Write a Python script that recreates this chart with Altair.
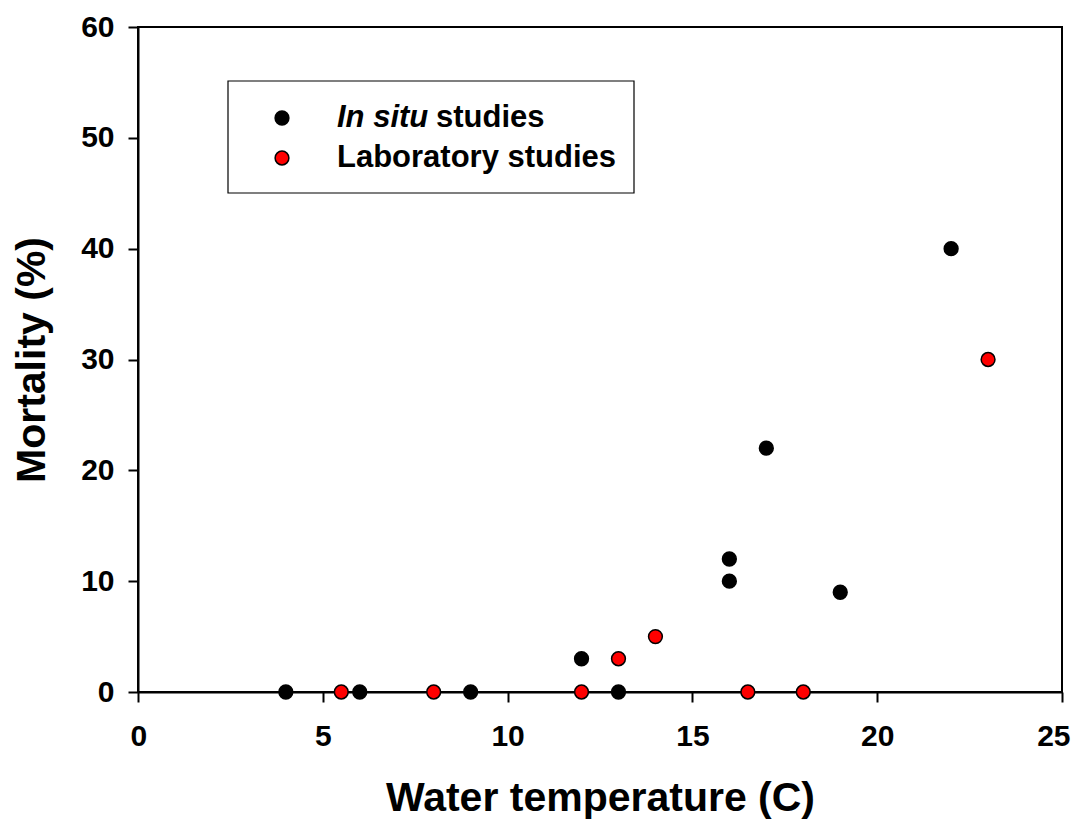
import altair as alt
import pandas as pd

# ---- data ----
insitu_temp = [4, 6, 9, 12, 13, 16, 16, 17, 19, 22]
insitu_mort = [0, 0, 0, 3, 0, 12, 10, 22, 9, 40]
lab_temp = [5.5, 8, 12, 13, 14, 16.5, 18, 23]
lab_mort = [0, 0, 0, 3, 5, 0, 0, 30]
series_names = ["In situ studies", "Laboratory studies"]
series_colors = ["#000000", "#ff0000"]
x_ticks = [0, 5, 10, 15, 20, 25]
y_ticks = [0, 10, 20, 30, 40, 50, 60]
legend_italic = "In situ"
legend_rest = "studies"

FONT = "Liberation Sans"

df = pd.concat([
    pd.DataFrame({"temp": insitu_temp, "mort": insitu_mort, "series": series_names[0]}),
    pd.DataFrame({"temp": lab_temp, "mort": lab_mort, "series": series_names[1]}),
], ignore_index=True)

xscale = alt.Scale(domain=[0, 25], nice=False, zero=False)
yscale = alt.Scale(domain=[0, 60], nice=False, zero=False)

base = alt.Chart(df)

points = base.mark_point(filled=True, opacity=1, size=190, stroke="black", strokeWidth=1.5).encode(
    x=alt.X("temp:Q", scale=xscale, title="Water temperature (C)",
            axis=alt.Axis(values=x_ticks, labelPadding=19, titlePadding=27, format="d",
                          labelFlush=True, labelFlushOffset=8, labelOverlap=False)),
    y=alt.Y("mort:Q", scale=yscale, title="Mortality (%)",
            axis=alt.Axis(values=y_ticks, labelPadding=14, titlePadding=27, format="d",
                          labelFlush=False, labelOverlap=False)),
    color=alt.Color("series:N", scale=alt.Scale(domain=series_names, range=series_colors), legend=None),
    order=alt.Order("series:N"),
)

# ---- hand-built legend (mixed italic / bold label) ----
leg_df = pd.DataFrame({"series": series_names, "color": series_colors})
box = alt.Chart(leg_df.head(1)).mark_rect(fill="white", stroke="black", strokeWidth=1.2).encode(
    x=alt.value(90), x2=alt.value(496), y=alt.value(54), y2=alt.value(166)
)
sym1 = alt.Chart(leg_df.iloc[[0]]).mark_point(filled=True, opacity=1, size=190, fill=series_colors[0],
                                              stroke="black", strokeWidth=1.5).encode(
    x=alt.value(144), y=alt.value(91))
sym2 = alt.Chart(leg_df.iloc[[1]]).mark_point(filled=True, opacity=1, size=190, fill=series_colors[1],
                                              stroke="black", strokeWidth=1.5).encode(
    x=alt.value(144), y=alt.value(131))
txt1a = alt.Chart(pd.DataFrame({"t": [legend_italic]})).mark_text(
    font=FONT, fontSize=31, fontWeight="bold", fontStyle="italic", align="left", baseline="middle", color="black"
).encode(x=alt.value(199), y=alt.value(91), text="t:N")
txt1b = alt.Chart(pd.DataFrame({"t": [legend_rest]})).mark_text(
    font=FONT, fontSize=31, fontWeight="bold", align="left", baseline="middle", color="black"
).encode(x=alt.value(298), y=alt.value(91), text="t:N")
txt2 = alt.Chart(leg_df.iloc[[1]]).mark_text(
    font=FONT, fontSize=31, fontWeight="bold", align="left", baseline="middle", color="black"
).encode(x=alt.value(199), y=alt.value(131), text="series:N")

chart = alt.layer(points, box, sym1, sym2, txt1a, txt1b, txt2).properties(
    width=924, height=665,
    padding={"left": 130, "top": 19, "right": 10, "bottom": 128},
    autosize=alt.AutoSizeParams(type="none"),
).configure_view(
    stroke="black", strokeWidth=2
).configure_axis(
    grid=False,
    domainColor="black", domainWidth=2,
    tickColor="black", tickWidth=2, tickSize=10,
    labelFont=FONT, labelFontSize=30, labelFontWeight="bold", labelColor="black",
    titleFont=FONT, titleFontSize=41, titleFontWeight="bold", titleColor="black",
)

chart.save("out.html", embed_options={"renderer": "svg", "actions": False})
